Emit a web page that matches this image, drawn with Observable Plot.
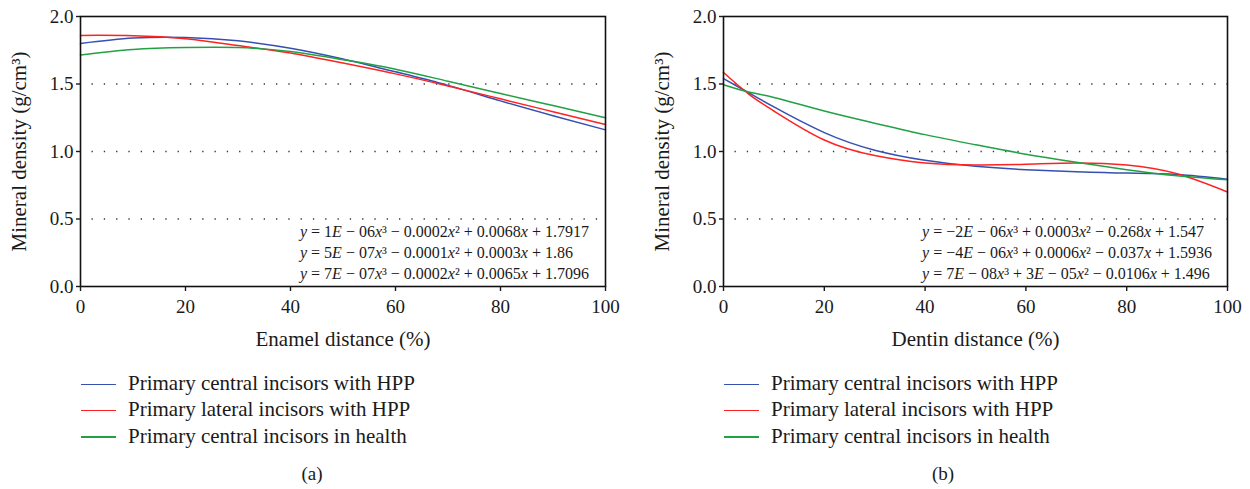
<!DOCTYPE html>
<html><head><meta charset="utf-8">
<script src="https://cdn.jsdelivr.net/npm/d3@7"></script>
<script src="https://cdn.jsdelivr.net/npm/@observablehq/plot@0.6"></script>
<style>
html,body{margin:0;padding:0;background:#fff;}
#root{position:relative;width:1250px;height:489px;overflow:hidden;font-family:"Liberation Serif",serif;color:#1a1a1a}
.panel{position:absolute;top:0;width:625px;height:489px}
.panel svg{position:absolute;left:0;top:0}
.item{position:absolute;white-space:nowrap;font-size:21px;line-height:21px}
.sw{position:absolute;width:35px;height:1.5px}
.cap{position:absolute;font-size:19px;transform:translateX(-50%);white-space:nowrap}
</style></head><body><div id="root"></div>
<script>
// ---- data ----
const seriesNames = ["Primary central incisors with HPP", "Primary lateral incisors with HPP", "Primary central incisors in health"];
const seriesColors = ["#3550b0", "#ff2222", "#22a044"];

const enamelX     = [0, 10, 20, 30, 40, 50, 60, 70, 80, 90, 100];
const enamelBlue  = [1.80, 1.84, 1.845, 1.82, 1.765, 1.685, 1.59, 1.49, 1.375, 1.265, 1.16];
const enamelRed   = [1.86, 1.858, 1.835, 1.785, 1.73, 1.655, 1.575, 1.485, 1.39, 1.295, 1.20];
const enamelGreen = [1.715, 1.755, 1.77, 1.77, 1.74, 1.68, 1.61, 1.52, 1.43, 1.34, 1.25];

const dentinX     = [0, 5, 10, 20, 30, 40, 50, 60, 70, 80, 90, 100];
const dentinBlue  = [1.54, 1.435, 1.33, 1.14, 1.01, 0.935, 0.89, 0.865, 0.85, 0.84, 0.83, 0.795];
const dentinRed   = [1.585, 1.425, 1.30, 1.085, 0.97, 0.915, 0.90, 0.905, 0.915, 0.90, 0.835, 0.70];
const dentinGreen = [1.495, 1.44, 1.40, 1.30, 1.21, 1.125, 1.05, 0.98, 0.92, 0.865, 0.82, 0.79];

const xTicks = [0, 20, 40, 60, 80, 100];
const yTicks = [0, 0.5, 1.0, 1.5, 2.0];
const yGrid  = [0.5, 1.0, 1.5];
const yLabel = "Mineral density (g/cm³)";
const enamelLabel = "Enamel distance (%)";
const dentinLabel = "Dentin distance (%)";
const enamelEquations = [
  "y = 1E − 06x³ − 0.0002x² + 0.0068x + 1.7917",
  "y = 5E − 07x³ − 0.0001x² + 0.0003x + 1.86",
  "y = 7E − 07x³ − 0.0002x² + 0.0065x + 1.7096"
];
const dentinEquations = [
  "y = −2E − 06x³ + 0.0003x² − 0.268x + 1.547",
  "y = −4E − 06x³ + 0.0006x² − 0.037x + 1.5936",
  "y = 7E − 08x³ + 3E − 05x² − 0.0106x + 1.496"
];
const captions = ["(a)", "(b)"];

// ---- helpers ----
function equationMark(lines, startX) {
  return (index, scales, values, dimensions) => {
    const {height, marginBottom} = dimensions;
    const g = d3.create("svg:g")
      .attr("font-size", 16).attr("fill", "#1a1a1a")
      .attr("font-family", "Liberation Serif").attr("text-anchor", "start");
    const x0 = scales.x(startX);
    lines.forEach((line, i) => {
      const t = g.append("text").attr("x", x0)
        .attr("y", height - marginBottom - 7 - (lines.length - 1 - i) * 21);
      line.split(/([yEx])/).filter(s => s.length).forEach(tok => {
        const sp = t.append("tspan").text(tok);
        if (/^[yEx]$/.test(tok)) sp.attr("font-style", "italic");
      });
    });
    return g.node();
  };
}

function buildPanel(left, xs, ys, xLabel, equations, eqStart, marginLeft, marginRight, caption, capX) {
  const data = [];
  ys.forEach((arr, s) => arr.forEach((v, i) => data.push({x: xs[i], y: v, s: seriesNames[s]})));
  const W = 625;
  const plot = Plot.plot({
    width: W, height: 356,
    marginLeft, marginRight, marginTop: 16, marginBottom: 70,
    style: {fontFamily: "Liberation Serif", fontSize: "19px", color: "#1a1a1a", background: "transparent", overflow: "visible"},
    x: {domain: [0, 100]},
    y: {domain: [0, 2]},
    color: {domain: seriesNames, range: seriesColors},
    marks: [
      Plot.ruleY(yGrid, {stroke: "#333", strokeWidth: 1.3, strokeDasharray: "1.3 11", strokeDashoffset: -11.5}),
      Plot.line(data, {x: "x", y: "y", stroke: "s", curve: "natural", strokeWidth: 1.5}),
      Plot.frame({stroke: "#111", strokeWidth: 1.6}),
      Plot.axisX({ticks: xTicks, tickSize: 5, tickPadding: 8, label: null, strokeWidth: 1.4, fontSize: 19}),
      Plot.axisY({ticks: yTicks, tickSize: 4, tickPadding: 3, tickFormat: d3.format(".1f"), label: null, strokeWidth: 1.4, fontSize: 19}),
      Plot.text([xLabel], {text: d => d, frameAnchor: "bottom", dy: 53, fontSize: 21, lineAnchor: "middle", textAnchor: "middle"}),
      Plot.text([yLabel], {text: d => d, frameAnchor: "left", dx: -61, rotate: -90, fontSize: 21, lineAnchor: "middle", textAnchor: "middle"}),
      equationMark(equations, eqStart)
    ]
  });
  const panel = document.createElement("div");
  panel.className = "panel";
  panel.style.left = left + "px";
  panel.appendChild(plot);
  seriesNames.forEach((name, i) => {
    const sw = document.createElement("div");
    sw.className = "sw";
    sw.style.background = seriesColors[i];
    sw.style.left = (marginLeft + 1) + "px";
    sw.style.top = (383.5 + i * 26.3) + "px";
    panel.appendChild(sw);
    const it = document.createElement("div");
    it.className = "item";
    it.textContent = name;
    it.style.left = (marginLeft + 48) + "px";
    it.style.top = (373 + i * 26.3) + "px";
    panel.appendChild(it);
  });
  const cap = document.createElement("div");
  cap.className = "cap";
  cap.textContent = caption;
  cap.style.left = capX + "px";
  cap.style.top = "463px";
  panel.appendChild(cap);
  document.getElementById("root").appendChild(panel);
}

buildPanel(0, enamelX, [enamelBlue, enamelRed, enamelGreen], enamelLabel, enamelEquations, 41.9, 80, 20, captions[0], 312);
buildPanel(625, dentinX, [dentinBlue, dentinRed, dentinGreen], dentinLabel, dentinEquations, 39.5, 98, 23, captions[1], 318);
</script></body></html>
